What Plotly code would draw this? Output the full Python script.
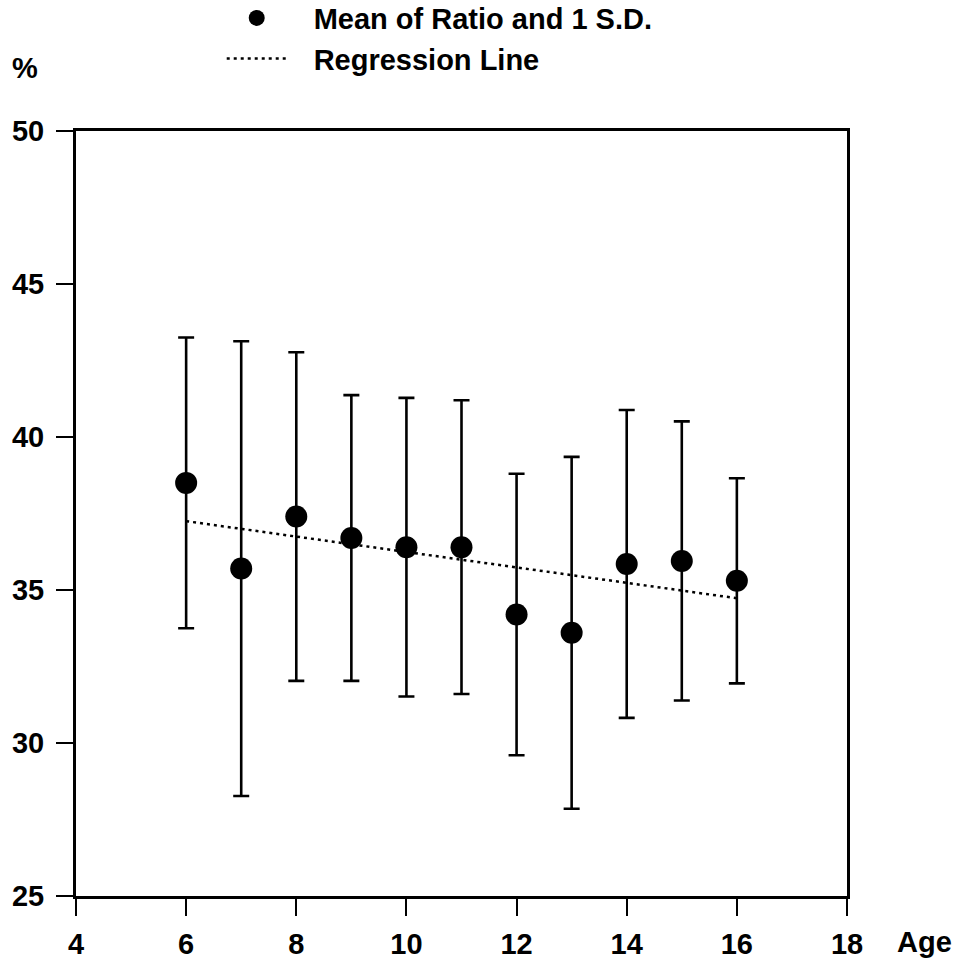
import plotly.graph_objects as go

# Mean ratio (%) by age, with one standard deviation either side
ages = [6, 7, 8, 9, 10, 11, 12, 13, 14, 15, 16]
mean_ratio = [38.5, 35.7, 37.4, 36.7, 36.4, 36.4, 34.2, 33.6, 35.85, 35.95, 35.3]
sd_ratio = [4.75, 7.43, 5.37, 4.67, 4.88, 4.8, 4.6, 5.75, 5.03, 4.56, 3.35]

# Fitted regression line end points
reg_age = [6, 16]
reg_ratio = [37.25, 34.73]

x_ticks = [4, 6, 8, 10, 12, 14, 16, 18]
y_ticks = [25, 30, 35, 40, 45, 50]

FONT = "Liberation Sans, Arial, Helvetica, sans-serif"
base_font = dict(family=FONT, size=29, color="black", weight="bold")

# small gap between legend symbol and its label
GAP = "\u00a0\u00a0\u2009"

fig = go.Figure()

fig.add_trace(go.Scatter(
    x=ages, y=mean_ratio, mode="markers",
    name=GAP + "Mean of Ratio and 1 S.D.",
    marker=dict(size=22, color="black"),
    error_y=dict(type="data", array=sd_ratio, visible=True,
                 color="black", thickness=2.6, width=8),
))

fig.add_trace(go.Scatter(
    x=reg_age, y=reg_ratio, mode="lines",
    name=GAP + "Regression Line",
    line=dict(color="black", width=2.5, dash="3px,4px"),
))

axis_common = dict(
    showline=True, linecolor="black", linewidth=3, mirror=True,
    ticks="outside", ticklen=17, tickwidth=2, tickcolor="black",
    showgrid=False, zeroline=False, automargin=False,
    tickfont=base_font,
)

fig.update_xaxes(range=[4, 18], tickvals=x_ticks, ticklabelstandoff=3, **axis_common)
fig.update_yaxes(range=[25, 50], tickvals=y_ticks, ticklabelstandoff=6, **axis_common)

fig.add_annotation(text="%", xref="paper", yref="paper", x=-0.066, y=1.082,
                   xanchor="center", yanchor="middle", showarrow=False, font=base_font)
fig.add_annotation(text="Age", xref="paper", yref="paper", x=1.101, y=-0.060,
                   xanchor="center", yanchor="middle", showarrow=False, font=base_font)

fig.update_layout(
    width=955, height=966,
    margin=dict(l=76, r=108, t=131, b=70, autoexpand=False),
    paper_bgcolor="white", plot_bgcolor="white",
    font=base_font,
    showlegend=True,
    legend=dict(
        x=0.189, y=1.181, xanchor="left", yanchor="top",
        bgcolor="rgba(0,0,0,0)", borderwidth=0,
        font=base_font,
        itemwidth=60, tracegroupgap=0,
    ),
)

fig.write_html("out.html")
